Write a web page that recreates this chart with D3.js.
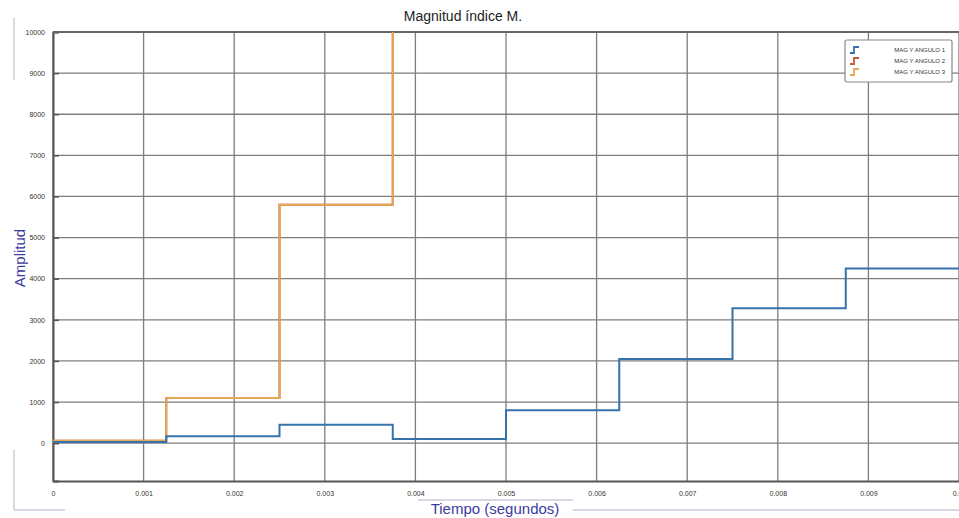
<!DOCTYPE html>
<html>
<head>
<meta charset="utf-8">
<script src="https://cdn.jsdelivr.net/npm/d3@7"></script>
<style>
  body { margin: 0; background: #fff; }
  svg { display: block; font-family: "Liberation Sans", Arial, sans-serif; }
</style>
</head>
<body>
<svg id="chart" width="959" height="518"></svg>
<script>
// step times (seconds) and values for each series
var stepTimes = [0, 0.00125, 0.0025, 0.00375, 0.005, 0.00625, 0.0075, 0.00875, 0.01];
var serie1 = [30, 170, 450, 100, 800, 2050, 3280, 4250, 4250];
var serie2 = [60, 1100, 5800, 12000, 12000, 12000, 12000, 12000, 12000];
var serie3 = [60, 1100, 5800, 12000, 12000, 12000, 12000, 12000, 12000];
var legendNames = ["MAG Y ANGULO 1", "MAG Y ANGULO 2", "MAG Y ANGULO 3"];
var lineColors = ["#3673ad", "#c8573a", "#e6a658"];
var xTicks = [0, 0.001, 0.002, 0.003, 0.004, 0.005, 0.006, 0.007, 0.008, 0.009, 0.01];
var yTicks = [0, 1000, 2000, 3000, 4000, 5000, 6000, 7000, 8000, 9000, 10000];

var svg = d3.select("#chart");

//plot area
var margin = {top: 32, right: 0, bottom: 37, left: 53},
  width = 959 - margin.left - margin.right,
  height = 518 - margin.top - margin.bottom;

var x = d3.scaleLinear().domain([0, 0.01]).range([0, width]);
var y = d3.scaleLinear().domain([-920, 10000]).range([height, 0]);

var g = svg.append("g")
  .attr("transform", "translate(" + margin.left + "," + margin.top + ")");

//clip so the tall steps get cut at the top
g.append("clipPath").attr("id", "clip")
  .append("rect").attr("width", width).attr("height", height);

//grid lines
g.selectAll(".vgrid").data(xTicks).enter().append("line")
  .attr("x1", function(d) { return x(d); }).attr("x2", function(d) { return x(d); })
  .attr("y1", 0).attr("y2", height)
  .attr("stroke", "#7e7e7e").attr("stroke-width", 1.3);
g.selectAll(".hgrid").data(yTicks).enter().append("line")
  .attr("x1", 0).attr("x2", width)
  .attr("y1", function(d) { return y(d); }).attr("y2", function(d) { return y(d); })
  .attr("stroke", "#7e7e7e").attr("stroke-width", 1.3);

//axes
var xAxis = d3.axisBottom(x).tickValues(xTicks).tickSize(0).tickPadding(10)
  .tickFormat(function(d) { return d === 0 ? "0" : String(+d.toFixed(3)); });
var yAxis = d3.axisLeft(y).tickValues(yTicks).tickSize(-6).tickPadding(8)
  .tickFormat(d3.format("d"));

var gx = g.append("g").attr("transform", "translate(0," + height + ")").call(xAxis);
var gy = g.append("g").call(yAxis);
[gx, gy].forEach(function(a) {
  a.style("color", "#333");
  a.select(".domain").attr("stroke", "#555").attr("stroke-width", 2);
  a.selectAll("text").attr("font-size", 7).attr("fill", "#333");
  a.selectAll("line").attr("stroke", "#555").attr("stroke-width", 1.5);
});

//top frame line
g.append("line").attr("x1", 0).attr("x2", width).attr("y1", 0).attr("y2", 0)
  .attr("stroke", "#666").attr("stroke-width", 2);

//step lines
var line = d3.line()
  .x(function(d) { return x(d[0]); })
  .y(function(d) { return y(d[1]); })
  .curve(d3.curveStepAfter);

[serie2, serie3, serie1].forEach(function(s, k) {
  var i = [1, 2, 0][k];
  var pts = stepTimes.map(function(t, j) { return [t, s[j]]; });
  g.append("path").datum(pts)
    .attr("clip-path", "url(#clip)")
    .attr("fill", "none")
    .attr("stroke", lineColors[i])
    .attr("stroke-width", 2)
    .attr("d", line);
});

//legend
var lg = svg.append("g").attr("transform", "translate(845,40)");
lg.append("rect").attr("width", 107).attr("height", 42)
  .attr("fill", "#fff").attr("stroke", "#888").attr("stroke-width", 1.2).attr("rx", 2);
legendNames.forEach(function(n, i) {
  var yy = 10 + i * 11;
  lg.append("path")
    .attr("d", "M5," + (yy + 3) + " h4 v-6 h5")
    .attr("fill", "none").attr("stroke", lineColors[i]).attr("stroke-width", 1.8);
  lg.append("text").attr("x", 100).attr("y", yy + 2)
    .attr("text-anchor", "end").attr("font-size", 6).attr("fill", "#333").text(n);
});

//title and axis labels
svg.append("text").attr("x", 463).attr("y", 21).attr("text-anchor", "middle")
  .attr("font-size", 14).attr("fill", "#222").text("Magnitud índice M.");
svg.append("text").attr("transform", "translate(25,258) rotate(-90)")
  .attr("text-anchor", "middle").attr("font-size", 15).attr("fill", "#3b3aa0").text("Amplitud");
svg.append("text").attr("x", 495).attr("y", 514).attr("text-anchor", "middle")
  .attr("font-size", 15).attr("fill", "#3b3aa0").text("Tiempo (segundos)");

//faint frame lines from the capture
var frame = [[14, 18, 14, 80], [14, 450, 14, 510], [14, 510, 65, 510], [573, 510, 959, 510], [418, 500, 573, 500]];
svg.selectAll(".frame").data(frame).enter().append("line")
  .attr("x1", function(d) { return d[0]; }).attr("y1", function(d) { return d[1]; })
  .attr("x2", function(d) { return d[2]; }).attr("y2", function(d) { return d[3]; })
  .attr("stroke", "#c8ccd8").attr("stroke-width", 1.5);
</script>
</body>
</html>
